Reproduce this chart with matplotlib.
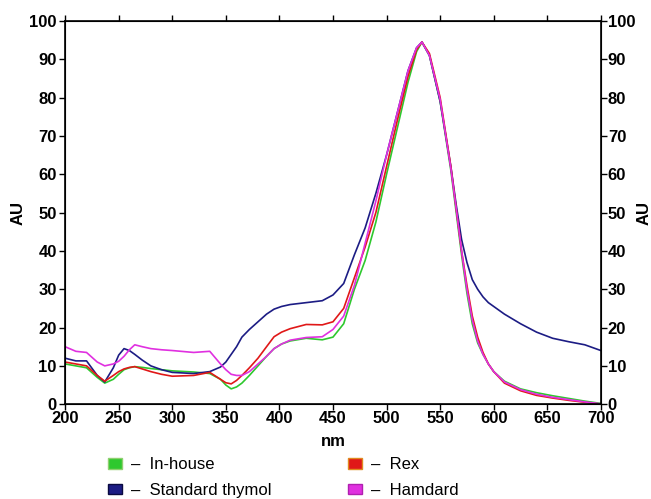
import matplotlib
matplotlib.use("Agg")
import matplotlib.pyplot as plt
from matplotlib.patches import Patch

# longitudes de onda (nm)
wl = [200, 210, 220, 230, 237, 245, 250, 255, 260, 265, 272, 280, 290, 300,
      320, 335, 345, 350, 355, 360, 365, 372, 380, 388, 395, 402, 410, 425,
      440, 450, 460, 470, 480, 490, 500, 510, 520, 528, 533, 540, 550, 560,
      565, 570, 575, 580, 585, 590, 595, 600, 610, 625, 640, 655, 670, 685,
      700]

in_house = [10.5, 10, 9.5, 7, 5.5, 6.5, 7.8, 9, 9.5, 9.8, 9.6, 9.3, 9, 8.7,
            8.4, 8, 6.5, 5, 4, 4.5, 5.5, 7.5, 10, 12.5, 14.5, 15.7, 16.5, 17.2,
            16.8, 17.5, 21, 30, 37.5, 47.5, 60, 72, 84, 92, 94.5, 91, 79, 61,
            50, 39, 29, 21, 16, 13, 10.5, 8.5, 6, 4, 3, 2.2, 1.5, 0.8,
            0.2]

standard_thymol = [12, 11.3, 11.3, 7.5, 5.8, 9.5, 12.8, 14.5, 14, 13, 11.5, 10, 9, 8.3,
                   8, 8.5, 9.7, 11, 13, 15, 17.5, 19.5, 21.5, 23.5, 24.8, 25.5, 26, 26.5,
                   27, 28.5, 31.5, 39, 46, 55, 65, 76, 87, 93, 94.5, 91, 79, 62,
                   52, 43, 37, 32.5, 30, 28, 26.5, 25.5, 23.5, 21, 18.8, 17.2, 16.3, 15.5,
                   14]

rex = [11, 10.5, 10, 7.5, 6, 7.5, 8.5, 9.2, 9.6, 9.8, 9.2, 8.5, 7.8, 7.3,
       7.5, 8.3, 6.5, 5.6, 5.3, 6.2, 7.5, 9.5, 12, 15, 17.6, 18.8, 19.7, 20.8,
       20.7, 21.5, 25, 33, 41, 50, 62, 74, 85.5, 92.5, 94.5, 91.5, 80, 62,
       51, 40, 31, 23, 17.5, 13.5, 10.5, 8.5, 5.5, 3.5, 2.3, 1.6, 1, 0.5,
       0]

hamdard = [15, 13.8, 13.5, 11, 10, 10.5, 11.2, 12.5, 14.2, 15.5, 15, 14.5, 14.2, 14,
           13.5, 13.8, 10.5, 9, 7.8, 7.5, 7.5, 8.5, 10.5, 12.5, 14.5, 15.7, 16.7, 17.4,
           17.6, 19.5, 23, 31, 42, 53, 65, 76, 87, 93, 94.5, 91, 79.5, 61.5,
           51, 40, 30, 22, 16.5, 13, 10.5, 8.5, 5.8, 3.8, 2.6, 1.8, 1.2, 0.6,
           0.1]

series = ["In-house", "Standard thymol", "Rex", "Hamdard"]
valores = [in_house, standard_thymol, rex, hamdard]
colores = ["#2ec82e", "#1c1c84", "#e01818", "#e030e0"]
bordes = ["#8fd070", "#0a0a40", "#e08a20", "#b020b0"]

plt.rcParams["font.family"] = ["Liberation Sans", "DejaVu Sans"]

fig = plt.figure(figsize=(6.51, 4.99), dpi=100)
ax = fig.add_axes([0.1, 0.19, 0.823, 0.768])

for nombre, vals, col in zip(series, valores, colores):
    ax.plot(wl, vals, color=col, linewidth=1.2, label=nombre)

ax.set_xlim(200, 700)
ax.set_ylim(0, 100)
ax.set_xticks(range(200, 701, 50))
ax.set_yticks(range(0, 101, 10))
ax.tick_params(axis="both", direction="out", length=4, width=1, labelsize=12)
ax.tick_params(axis="x", top=True, pad=1)
ax.tick_params(axis="y", pad=2)
for lab in ax.get_xticklabels() + ax.get_yticklabels():
    lab.set_fontweight("bold")
ax.set_xlabel("nm", fontsize=12, fontweight="bold", labelpad=6)
ax.set_ylabel("AU", fontsize=12, fontweight="bold", labelpad=3)
for s in ax.spines.values():
    s.set_linewidth(1.2)

ax2 = ax.twinx()
ax2.set_ylim(0, 100)
ax2.set_yticks(range(0, 101, 10))
ax2.tick_params(axis="y", direction="out", length=4, width=1, labelsize=12, pad=1)
for lab in ax2.get_yticklabels():
    lab.set_fontweight("bold")
ax2.set_ylabel("AU", fontsize=12, fontweight="bold", labelpad=1)

# leyenda debajo del eje
handles = [Patch(facecolor=c, edgecolor=b, linewidth=1) for c, b in zip(colores, bordes)]
etiquetas = ["\u2013  " + s for s in series]
fig.legend(handles, etiquetas, loc="upper left", bbox_to_anchor=(0.166, 0.084),
           ncol=2, frameon=False, fontsize=12, handlelength=0.85, handleheight=0.6,
           columnspacing=4.55, labelspacing=0.65, handletextpad=0.55, borderpad=0,
           borderaxespad=0)

fig.savefig("out.png", dpi=100)
